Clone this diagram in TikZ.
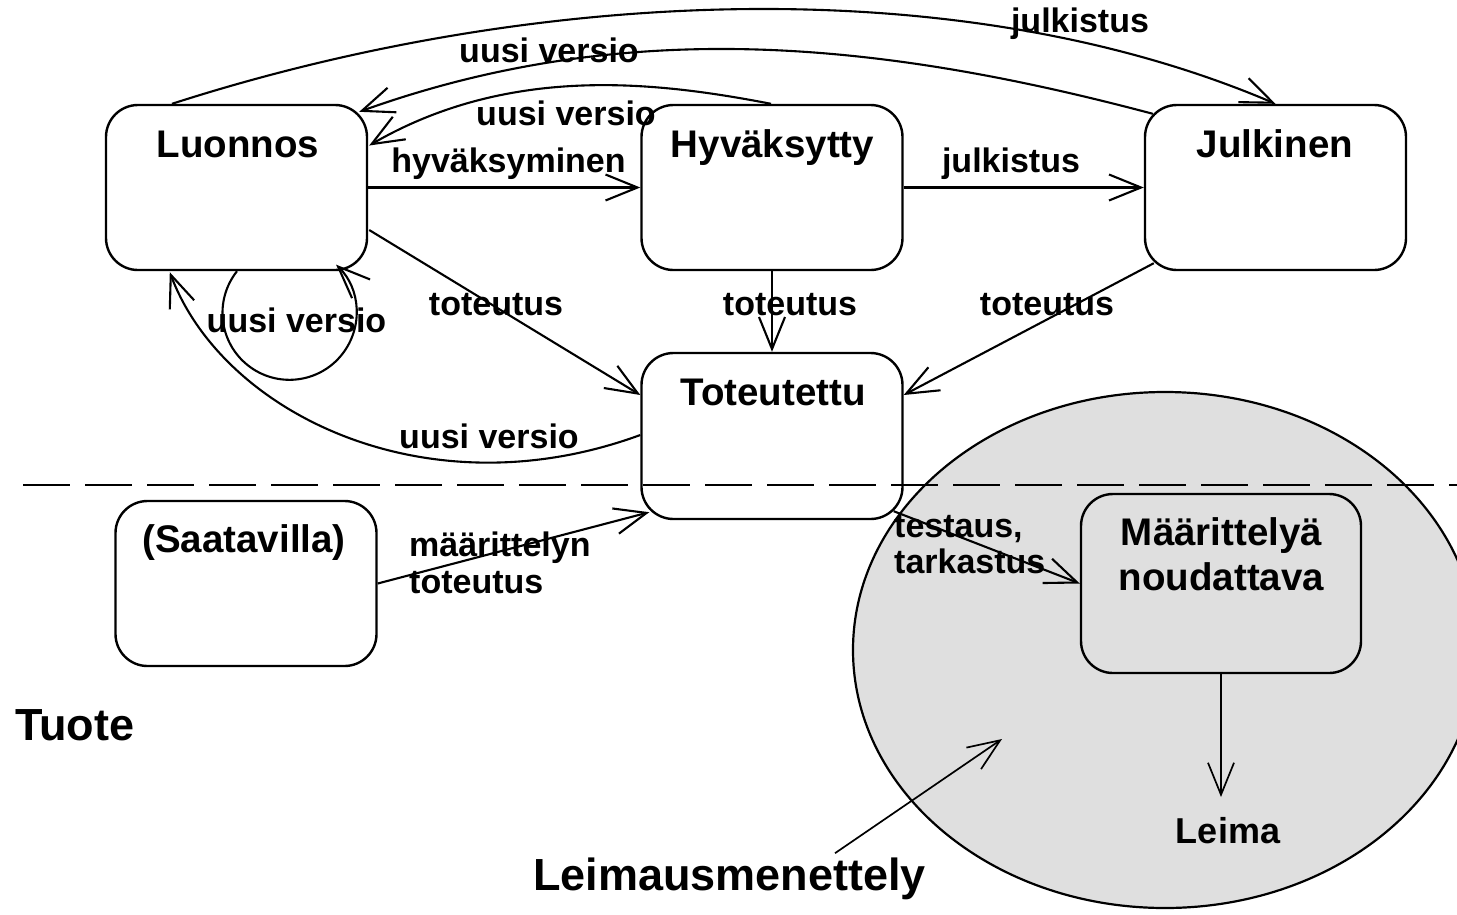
\documentclass[tikz,border=0pt]{standalone}
\usepackage{fontspec}
\setmainfont{Liberation Sans}
\usetikzlibrary{arrows.meta,calc}
\definecolor{ellgray}{HTML}{DFDFDF}
\begin{document}
\begin{tikzpicture}[x=1pt,y=-1pt,
  box/.style={draw, line width=2.4pt, rounded corners=32pt, fill=white,
    minimum width=261pt, minimum height=165pt, inner sep=0pt},
  ttl/.style={font=\fontsize{38.5}{43}\selectfont\bfseries, anchor=base, inner sep=0pt},
  big/.style={font=\fontsize{45}{50}\selectfont\bfseries, inner sep=0pt},
  lbl/.style={font=\fontsize{34}{38}\selectfont\bfseries, anchor=base, inner sep=0pt},
  lbll/.style={lbl, anchor=base west},
  arr/.style={line width=2.1pt, -{Straight Barb[length=32pt,width=26pt]}},
]
\useasboundingbox (0,0) rectangle (1457,914);
\begin{scope}
\clip (0,0) rectangle (1457,914);
% big ellipse
\draw[fill=ellgray, line width=2.2pt] (1165,650) ellipse [x radius=312pt, y radius=258pt];

% boxes
\node[box] (L) at (236.5,187.5) {};
\node[box] (H) at (772,187.5) {};
\node[box] (J) at (1275.5,187.5) {};
\node[box, minimum height=166pt] (T) at (772,436) {};
\node[box] (S) at (246,583.5) {};
\node[box, fill=ellgray, minimum width=280pt, minimum height=179pt] (M) at (1221,583.5) {};

% titles
\node[ttl] (Lt) at (238,157) {Luonnos};
\node[ttl] (Ht) at (772.5,157) {Hyväksytty};
\node[ttl] (Jt) at (1275,157) {Julkinen};
\node[ttl] (Tt) at (773,405) {Toteutettu};
\node[ttl] (St) at (244,552) {(Saatavilla)};
\node[ttl] (Mt1) at (1221.5,545) {Määrittelyä};
\node[ttl] (Mt2) at (1221.5,590) {noudattava};
\node[ttl, font=\fontsize{36}{40}\selectfont\bfseries] (Le) at (1228,843) {Leima};
\node[big, anchor=base west] (Tu) at (15,740) {Tuote};
\node[big, anchor=base] (Lm) at (729.5,890) {Leimausmenettely};

\coordinate (leimatip) at (1221,797);
\coordinate (ellpt) at (1002,739);

% connectors
\draw[arr] ($(L.north)+(-64.5,0)$) .. controls (522,-9) and (950,-35) .. (J.north);
\draw[arr] ($(J.north west)+(9,10)$) .. controls (879,41) and (626,16) .. ($(L.north east)+(-9,8)$);
\draw[arr] ($(H.north)+(-1,0)$) .. controls (653,81) and (508,65) .. ($(L.east)+(1,-42)$);
\draw[arr] (L.east) -- (H.west);
\draw[arr] (H.east) -- (J.west);
\draw[arr] ($(L.east)+(1,42.5)$) -- ($(T.west)+(0,-41)$);
\draw[arr] (H.south) -- (T.north);
\draw[arr] ($(J.south west)+(10,-8)$) -- ($(T.east)+(0,-41)$);
\draw[arr] ($(T.west)+(0,-1)$) .. controls (425,514) and (222,412) .. ($(L.south west)+(65,1)$);
\draw[arr] ($(L.south)+(0.5,0)$) arc[start angle=141.6, end angle=406, radius=67pt];
\draw[arr] (S.east) -- ($(T.south west)+(9,-8)$);
\draw[arr] ($(T.south east)+(-10,-9)$) -- (M.west);
\draw[arr, line width=1.7pt] (M.south) -- (leimatip);
\draw[arr, line width=1.7pt] ($(Lm.north)+(105.5,-4)$) -- (ellpt);

% dashed separator
\draw[line width=1.4pt, dash pattern=on 47pt off 15pt] (23,485) -- (1457,485);
\end{scope}

% labels
\node[lbl] (l1) at (1080,32) {julkistus};
\node[lbl] (l2) at (549,62) {uusi versio};
\node[lbl] (l3) at (566,125) {uusi versio};
\node[lbl] (l4) at (508.5,172) {hyväksyminen};
\node[lbl] (l5) at (1011,172) {julkistus};
\node[lbl] (l6) at (496,315) {toteutus};
\node[lbl] (l7) at (790,315) {toteutus};
\node[lbl] (l8) at (1047,315) {toteutus};
\node[lbl] (l9) at (296.5,332) {uusi versio};
\node[lbl] (l10) at (489,448) {uusi versio};
\node[lbll] (l11) at (409,556) {määrittelyn};
\node[lbll] (l12) at (409,593) {toteutus};
\node[lbll] (l13) at (894,537) {testaus,};
\node[lbll] (l14) at (894,573) {tarkastus};
\end{tikzpicture}
\end{document}
